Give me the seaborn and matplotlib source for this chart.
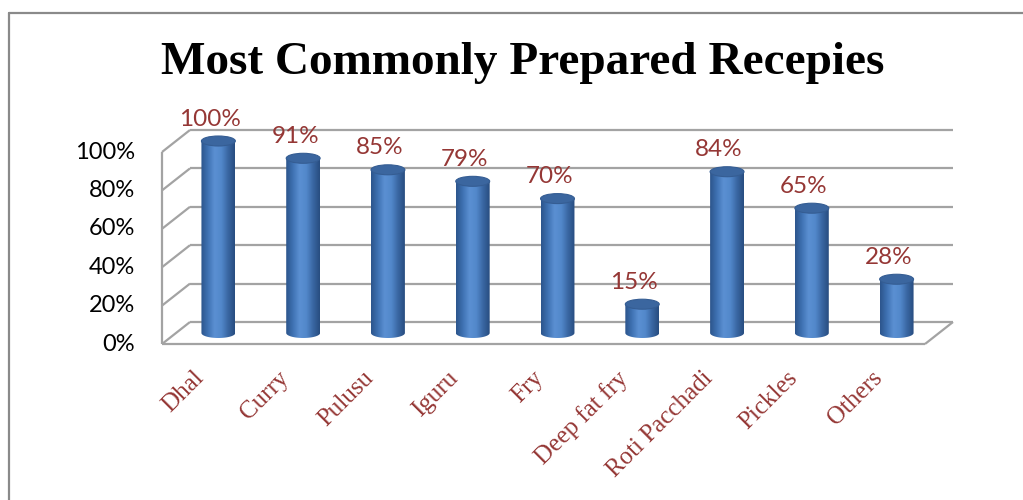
import numpy as np
import pandas as pd
import matplotlib
matplotlib.use("Agg")
import matplotlib.pyplot as plt
import seaborn as sns
from matplotlib.patches import Ellipse, PathPatch
from matplotlib.path import Path
from matplotlib.colors import LinearSegmentedColormap
from matplotlib.lines import Line2D

# --- data -------------------------------------------------------------
recipes = ["Dhal", "Curry", "Pulusu", "Iguru", "Fry", "Deep fat fry",
           "Roti Pacchadi", "Pickles", "Others"]
share_pct = [100, 91, 85, 79, 70, 15, 84, 65, 28]
y_ticks = [0, 20, 40, 60, 80, 100]
y_tick_labels = ["0%", "20%", "40%", "60%", "80%", "100%"]
title = "Most Commonly Prepared Recepies"

df = pd.DataFrame({"recipe": recipes, "share": share_pct})

# --- style --------------------------------------------------------------
sns.set_theme(style="white")
plt.rcParams["font.family"] = ["Lato", "DejaVu Sans"]

label_red = "#953735"
grid_grey = "#a3a3a3"

fig = plt.figure(figsize=(10.23, 5.0), dpi=100)
ax = fig.add_axes([176 / 1023, 167 / 500, 763 / 1023, 192 / 500])

bar_w = 0.40
sns.barplot(data=df, x="recipe", y="share", color="#4a7ebf",
            width=bar_w, ax=ax, zorder=3, saturation=1)

ax.set_xlim(-0.5, len(recipes) - 0.5)
ax.set_ylim(0, 100)
ax.set_autoscale_on(False)
ax.axis("off")

# depth of the pseudo-3D box, in data units
ddx = 0.165
ddy = 5.73
x0, x1 = -0.5, len(recipes) - 0.5

line_kw = dict(color=grid_grey, lw=1.6, clip_on=False, zorder=1,
               solid_capstyle="butt")

# back wall gridlines and left wall diagonals
for v in y_ticks:
    ax.plot([x0 + ddx, x1 + ddx], [v + ddy, v + ddy], **line_kw)
    ax.plot([x0 - ddx, x0 + ddx], [v - ddy, v + ddy], **line_kw)
# left wall front edge
ax.plot([x0 - ddx, x0 - ddx], [-ddy, 100 - ddy], **line_kw)
# floor front edge and right side
ax.plot([x0 - ddx, x1 - ddx], [-ddy, -ddy], **line_kw)
ax.plot([x1 - ddx, x1 + ddx], [-ddy, ddy], **line_kw)

# y tick labels on the front edge
for v, lab in zip(y_ticks, y_tick_labels):
    ax.annotate(lab, xy=(x0 - ddx, v - ddy), xytext=(-27, 0),
                textcoords="offset pixels", ha="right", va="center",
                fontsize=17, color="black", annotation_clip=False)

# cylinder shading
body_cmap = LinearSegmentedColormap.from_list(
    "cyl", ["#2c558c", "#3f72b3", "#5b90d2", "#5288cb", "#3a67a3", "#284d80"])
grad = np.linspace(0, 1, 64).reshape(1, -1)
cap_h = 5.2  # ellipse height in data units

for patch in ax.patches[:len(recipes)]:
    bx = patch.get_x()
    bw = patch.get_width()
    bh = patch.get_height()
    cx = bx + bw / 2
    half_w = bw / 2
    e = cap_h / 2
    t = np.linspace(np.pi, 2 * np.pi, 40)
    xs = list(cx + half_w * np.cos(t)) + [cx + half_w, cx - half_w, cx - half_w]
    ys = list(e * np.sin(t)) + [bh, bh, 0]
    path = Path(np.column_stack([xs, ys]))
    clip = PathPatch(path, transform=ax.transData, facecolor="none",
                     edgecolor="none")
    ax.add_patch(clip)
    patch.set_visible(False)
    im = ax.imshow(grad, cmap=body_cmap, aspect="auto",
                   extent=[bx, bx + bw, -e, bh], zorder=3,
                   interpolation="bicubic")
    im.set_clip_box(fig.bbox)
    im.set_clip_path(clip)
    ax.add_patch(Ellipse((cx, bh), bw, cap_h, facecolor="#3b669f",
                         edgecolor="#355d93", lw=0.8, zorder=4,
                         clip_on=False))

# value labels
for i, v in enumerate(share_pct):
    ax.annotate(f"{v}%", xy=(i, v), xytext=(-8, 22),
                textcoords="offset pixels", ha="center", va="center",
                fontsize=17.5, color=label_red, annotation_clip=False)

# category labels
for i, name in enumerate(recipes):
    ax.text(i - 0.118, -17.7, name, rotation=45, ha="right", va="top",
            fontsize=18, color=label_red, family=["Liberation Serif"],
            clip_on=False)

# title
fig.text(523 / 1023, 1 - 63 / 500, title, ha="center", va="center",
         fontsize=34, fontweight="bold", family=["Liberation Serif"],
         color="black")

# chart frame
frame_kw = dict(color="#8a8a8a", lw=1.6, transform=fig.transFigure)
fig.add_artist(Line2D([8.5 / 1023, 1.0], [1 - 13 / 500, 1 - 13 / 500], **frame_kw))
fig.add_artist(Line2D([8.5 / 1023, 8.5 / 1023], [0, 1 - 13 / 500], **frame_kw))

fig.savefig("out.png", dpi=100)
